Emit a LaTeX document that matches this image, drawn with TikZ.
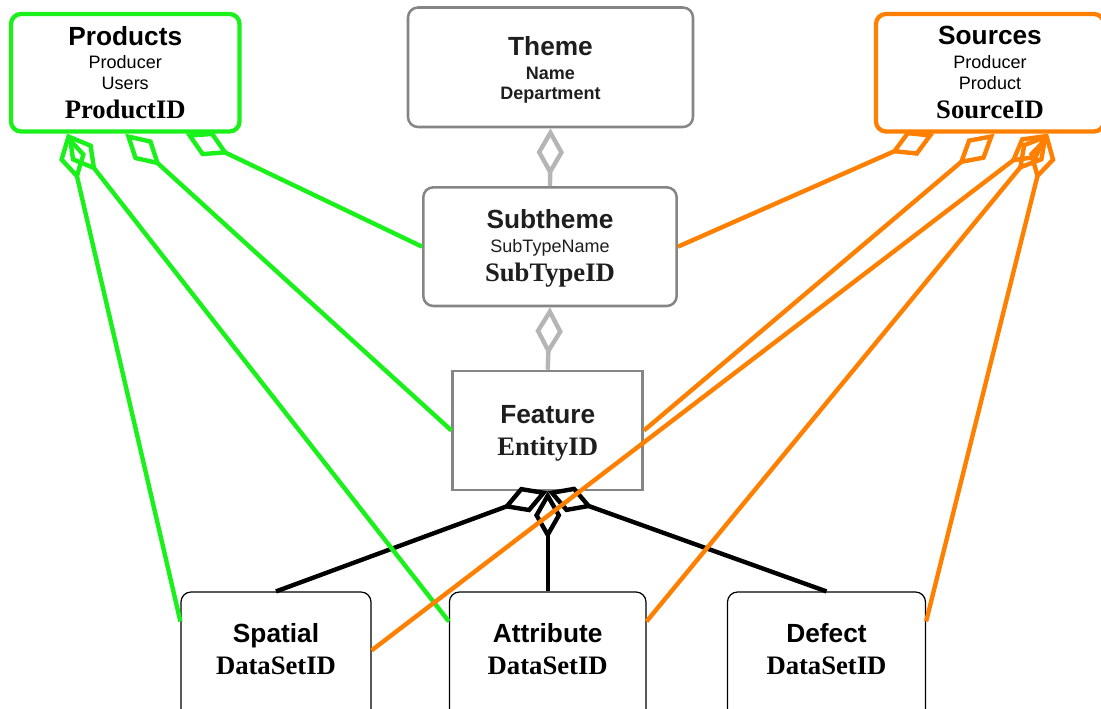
\documentclass[tikz,border=0pt]{standalone}
\usepackage{fontspec}
\setmainfont{Liberation Sans}
\newfontfamily\idfont{Liberation Serif}
\usetikzlibrary{arrows.meta,calc}

\definecolor{prodgreen}{HTML}{1AF01A}
\definecolor{srcorange}{HTML}{FF8000}
\definecolor{boxgray}{HTML}{858585}
\definecolor{linkgray}{HTML}{B5B5B5}
\definecolor{inkgray}{HTML}{1E1E1E}

\tikzset{
  boxdim/.style 2 args={minimum width=#1*0.75pt, minimum height=#2*0.75pt},
  entity/.style={fill=white, inner sep=0pt, rounded corners=7.5pt},
  greenbox/.style={entity, draw=prodgreen, line width=3.2pt},
  orangebox/.style={entity, draw=srcorange, line width=3.2pt},
  graybox/.style={entity, draw=boxgray, line width=1.9pt},
  flatbox/.style={entity, draw=boxgray, line width=1.9pt, sharp corners},
  setbox/.style={entity, draw=black, line width=0.9pt},
  label/.style={anchor=base, inner sep=0pt},
  title/.style={label, font=\bfseries\fontsize{19.7}{22}\selectfont},
  field/.style={label, font=\fontsize{13.5}{15}\selectfont},
  boldfield/.style={label, font=\bfseries\fontsize{13.5}{15}\selectfont},
  keyid/.style={label, font=\idfont\bfseries\fontsize{20}{22}\selectfont},
  agg/.style={line width=3.3pt, -{Diamond[open,length=36pt,width=20.5pt]}},
}

\begin{document}
\begin{tikzpicture}[x=0.75pt, y=-0.75pt]
\path[use as bounding box, clip] (0,0) rectangle (1101,708);

% entity boxes
\node[greenbox,  boxdim={228.5}{117.5}] (prod) at (125.25,72.75) {};
\node[orangebox, boxdim={228}{117.5}]   (src)  at (990,72.75) {};
\node[graybox,   boxdim={285}{119.5}]   (th)   at (550.5,67.25) {};
\node[graybox,   boxdim={253.4}{118.7}] (sub)  at (550,246.65) {};
\node[flatbox,   boxdim={190}{119}]     (fe)   at (547.7,430.5) {};
\node[setbox,    boxdim={190}{160}]     (sp)   at (276,672) {};
\node[setbox,    boxdim={196.6}{160}]   (at)   at (547.7,672) {};
\node[setbox,    boxdim={198}{160}]     (de)   at (826.5,672) {};

% box contents
\node[title]  (prodT)  at (125.25,45) {Products};
\node[field]  (prodF1) at (125.25,68) {Producer};
\node[field]  (prodF2) at (125.25,89) {Users};
\node[keyid]  (prodK)  at (125.25,118) {ProductID};

\node[title]  (srcT)  at (990,44.5) {Sources};
\node[field]  (srcF1) at (990,68) {Producer};
\node[field]  (srcF2) at (990,89) {Product};
\node[keyid]  (srcK)  at (990,118) {SourceID};

\node[title, text=inkgray]     (thT)  at (550.5,55) {Theme};
\node[boldfield, text=inkgray] (thF1) at (550.5,79) {Name};
\node[boldfield, text=inkgray] (thF2) at (550.5,99) {Department};

\node[title, text=inkgray] (subT)  at (550,228) {Subtheme};
\node[field, text=inkgray] (subF1) at (550,252.5) {SubTypeName};
\node[keyid, text=inkgray] (subK)  at (550,281.5) {SubTypeID};

\node[title, text=inkgray] (feT) at (547.7,423) {Feature};
\node[keyid, text=inkgray] (feK) at (547.7,455) {EntityID};

\node[title] (spT) at (276,642.5) {Spatial};
\node[keyid] (spK) at (276,674.5) {DataSetID};
\node[title] (atT) at (547.7,642.5) {Attribute};
\node[keyid] (atK) at (547.7,674.5) {DataSetID};
\node[title] (deT) at (826.5,642.5) {Defect};
\node[keyid] (deK) at (826.5,674.5) {DataSetID};

% attachment points
\coordinate (prodA) at ($(prod.south west)!0.25!(prod.south east)$);
\coordinate (prodB) at ($(prod.south west)!0.5!(prod.south east)$);
\coordinate (prodC) at ($(prod.south west)!0.76!(prod.south east)$);
\coordinate (srcA)  at ($(src.south west)!0.26!(src.south east)$);
\coordinate (srcB)  at ($(src.south west)!0.52!(src.south east)$);
\coordinate (srcC)  at ($(src.south west)!0.75!(src.south east)$);
\coordinate (spW)  at ($(sp.north west)+(0,30)$);
\coordinate (spE)  at ($(sp.north east)+(0,59)$);
\coordinate (atW)  at ($(at.north west)+(0,30)$);
\coordinate (atE)  at ($(at.north east)+(0,30)$);
\coordinate (deE)  at ($(de.north east)+(0,30)$);

% theme hierarchy
\draw[agg, linkgray] (sub.north) -- (th.south);
\draw[agg, linkgray] (fe.north) -- (sub.south);

% data sets of a feature
\draw[agg, black] (sp.north) -- (fe.south);
\draw[agg, black] (at.north) -- (fe.south);
\draw[agg, black] (de.north) -- (fe.south);

% product links
\draw[agg, prodgreen] (sub.west) -- (prodC);
\draw[agg, prodgreen] (fe.west) -- (prodB);
\draw[agg, prodgreen] (spW) -- (prodA);
\draw[agg, prodgreen] (atW) -- (prodA);

% source links
\draw[agg, srcorange] (sub.east) -- (srcA);
\draw[agg, srcorange] (fe.east) -- (srcB);
\draw[agg, srcorange] (spE) -- (srcC);
\draw[agg, srcorange] (atE) -- (srcC);
\draw[agg, srcorange] (deE) -- (srcC);
\end{tikzpicture}
\end{document}
